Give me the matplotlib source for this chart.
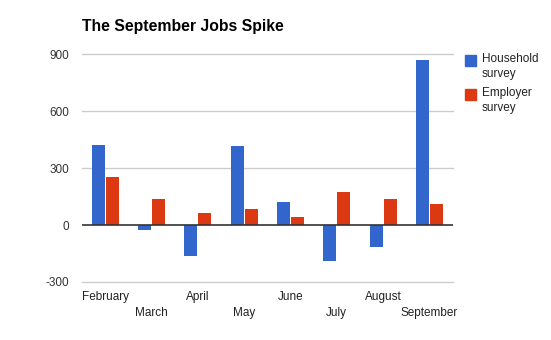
import numpy as np
import matplotlib.pyplot as plt

plt.rcParams['font.family'] = ['Liberation Sans', 'DejaVu Sans']

months = ['February', 'March', 'April', 'May', 'June', 'July', 'August', 'September']
household = [422, -28, -165, 417, 123, -191, -118, 870]
employer = [254, 138, 65, 86, 44, 175, 138, 112]
yticks = [-300, 0, 300, 600, 900]

W, H = 551, 340
fig = plt.figure(figsize=(W / 100, H / 100), dpi=100)
ax = fig.add_axes([82 / W, (H - 282) / H, (452.7 - 82) / W, (282 - 54) / H])

x = np.arange(len(months))
bw = 0.28
ax.bar(x - bw / 2 - 0.01, household, bw, color='#3366CC', label='Household\nsurvey', zorder=3)
ax.bar(x + bw / 2 + 0.01, employer, bw, color='#DC3912', label='Employer\nsurvey', zorder=3)

ax.set_xlim(-0.5, len(months) - 0.5)
ax.set_ylim(-300, 900)
ax.set_yticks(yticks)
ax.set_yticklabels([str(v) for v in yticks], fontsize=8.5, color='#333333')
ax.tick_params(axis='y', length=0, pad=9.5)
for v in yticks:
    if v != 0:
        ax.axhline(v, color='#cccccc', linewidth=1, zorder=0, clip_on=False)
ax.axhline(0, color='#333333', linewidth=1.2, zorder=4)
for s in ax.spines.values():
    s.set_visible(False)

# month labels alternate between two rows
ax.set_xticks([])
for i, m in enumerate(months):
    yoff = 296.7 if i % 2 == 0 else 312.7
    fig.text((82 + (i + 0.5) * (370.7 / 8)) / W, (H - yoff) / H, m,
             ha='center', va='center', fontsize=8.5, color='#222222')

fig.text(82 / W, (H - 27) / H, 'The September Jobs Spike', fontsize=11.3,
         fontweight='bold', ha='left', va='center')

# legend
for lab, col, ysq in [('Household\nsurvey', '#3366CC', 55), ('Employer\nsurvey', '#DC3912', 89)]:
    fig.patches.append(plt.Rectangle((465 / W, (H - ysq - 11) / H), 11 / W, 11 / H,
                                     transform=fig.transFigure, color=col))
    fig.text(482 / W, (H - ysq + 2) / H, lab, fontsize=8.5, ha='left', va='top',
             color='#222222', linespacing=1.35)

fig.savefig('out.png', dpi=100)
